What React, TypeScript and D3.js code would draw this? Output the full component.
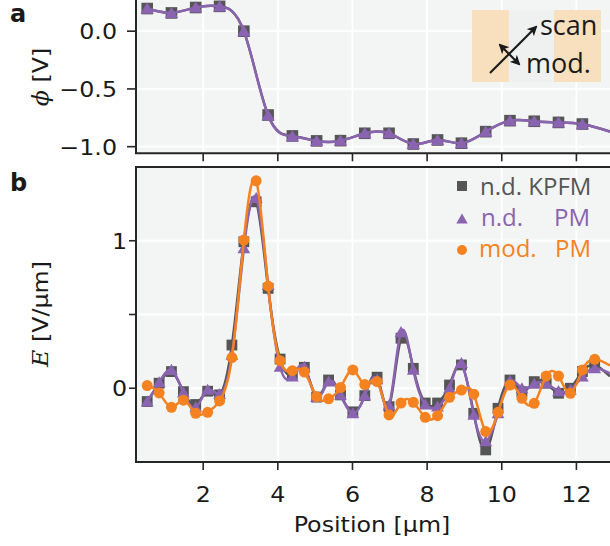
import React from "react";
import * as d3 from "d3";

// Sampling positions along the scan (µm)
const phiPositions = [
  0.5, 1.15, 1.8, 2.44, 3.09, 3.74, 4.39, 5.04, 5.68, 6.33, 6.98, 7.63, 8.28,
  8.92, 9.57, 10.22, 10.87, 11.52, 12.16,
];
// Potential profile (V)
const phiKpfm = [
  0.196, 0.158, 0.205, 0.215, 0.0, -0.726, -0.907, -0.95, -0.948, -0.884,
  -0.884, -0.977, -0.942, -0.97, -0.87, -0.775, -0.78, -0.79, -0.804,
];
const phiNd = [
  0.196, 0.158, 0.205, 0.215, 0.0, -0.73, -0.91, -0.95, -0.948, -0.884,
  -0.884, -0.977, -0.942, -0.97, -0.87, -0.775, -0.78, -0.79, -0.804,
];
// Trace value where the curve leaves the plotted window
const phiEdgeX = 12.9;
const phiEdgeValue = -0.87;

const ePositions = [
  0.5, 0.82, 1.15, 1.47, 1.8, 2.12, 2.44, 2.77, 3.09, 3.42, 3.74, 4.06, 4.39,
  4.71, 5.04, 5.36, 5.68, 6.01, 6.33, 6.66, 6.98, 7.3, 7.63, 7.95, 8.28, 8.6,
  8.92, 9.25, 9.57, 9.9, 10.22, 10.54, 10.87, 11.19, 11.52, 11.84, 12.16, 12.49,
];
// Electric field (V/µm)
const eKpfm = [
  -0.09, 0.034, 0.113, -0.023, -0.11, -0.02, -0.045, 0.293, 0.993, 1.264,
  0.677, 0.198, 0.095, 0.142, -0.06, 0.056, -0.045, -0.16, -0.05, 0.075,
  -0.125, 0.339, 0.135, -0.1, -0.1, 0.022, 0.158, -0.17, -0.418, -0.136,
  0.056, -0.023, 0.045, 0.034, -0.034, 0.0, 0.113, 0.158,
];
const eNd = [
  -0.09, 0.04, 0.124, -0.03, -0.13, -0.01, -0.04, 0.226, 0.948, 1.29, 0.7,
  0.146, 0.079, 0.146, -0.06, 0.045, -0.045, -0.17, -0.05, 0.06, -0.115, 0.38,
  0.125, -0.11, -0.124, 0.0, 0.17, -0.18, -0.36, -0.17, 0.05, 0.0, 0.03,
  0.034, -0.02, -0.01, 0.079, 0.135,
];
const eMod = [
  0.018, -0.032, -0.129, -0.081, -0.17, -0.163, -0.086, 0.208, 1.005, 1.406,
  0.693, 0.187, 0.119, 0.11, -0.057, -0.072, 0.005, 0.124, 0.025, 0.045,
  -0.181, -0.1, -0.095, -0.197, -0.186, -0.061, -0.012, -0.04, -0.294, -0.163,
  0.022, -0.068, -0.102, 0.083, 0.083, -0.034, 0.124, 0.196,
];
const eEdgeX = 12.9;
const eEdgeKpfm = 0.08;
const eEdgeNd = 0.1;
const eEdgeMod = 0.155;

const xTicks = [2, 4, 6, 8, 10, 12];
const phiTicks = [0, -0.5, -1.0];
const phiTickLabels = ["0.0", "\u22120.5", "\u22121.0"];
const eTicks = [0, 0.5, 1];
const eTickLabels = ["0", "", "1"];

const legendLabels = ["n.d. KPFM", "n.d.", "mod."];

const GRAY = "#555555";
const PURPLE = "#8a63b1";
const ORANGE = "#f58220";
const PANEL_BG = "#f3f5f5";
const SPINE = "#262626";
const INK = "#1a1a1a";
const TICK_FONT = "'DejaVu Sans', sans-serif";
const LABEL_FONT = "'Open Sans', 'Noto Sans', sans-serif";
const TICK_SIZE = 22;
const STRETCH = 1.08;

const left = 136;
const right = 610;
const bottomA = 153.3;
const topB = 167;
const bottomB = 462;

type Pt = [number, number];

function Square({ x, y, s, fill }: { x: number; y: number; s: number; fill: string }) {
  return <rect x={x - s} y={y - s} width={2 * s} height={2 * s} fill={fill} />;
}
function Tri({ x, y, r, fill }: { x: number; y: number; r: number; fill: string }) {
  return (
    <path
      d={`M${x},${y - r * 1.05} L${x + r * 1.1},${y + r * 0.85} L${x - r * 1.1},${y + r * 0.85} Z`}
      fill={fill}
    />
  );
}

// Axis text in the sans face, slightly widened
function AxisText({
  x,
  y,
  anchor = "middle",
  rotate = 0,
  children,
}: {
  x: number;
  y: number;
  anchor?: string;
  rotate?: number;
  children: React.ReactNode;
}) {
  return (
    <text
      transform={`translate(${x},${y}) rotate(${rotate}) scale(${STRETCH},1)`}
      textAnchor={anchor}
      fontFamily={TICK_FONT}
      fontSize={TICK_SIZE}
      fill={INK}
    >
      {children}
    </text>
  );
}

export default function App() {
  const x = d3.scaleLinear().domain([0.2, 12.9]).range([left, right]);
  const yA = d3.scaleLinear().domain([-1.06, 0.27]).range([bottomA + 0.3, 0]);
  const yB = d3.scaleLinear().domain([-0.5, 1.5]).range([bottomB, topB]);

  const lineA = d3
    .line<Pt>()
    .x((d) => x(d[0]))
    .y((d) => yA(d[1]))
    .curve(d3.curveNatural);
  const lineB = d3
    .line<Pt>()
    .x((d) => x(d[0]))
    .y((d) => yB(d[1]))
    .curve(d3.curveNatural);

  const withEdgeA = (vals: number[]): Pt[] => [
    ...phiPositions.map((p, i) => [p, vals[i]] as Pt),
    [phiEdgeX, phiEdgeValue],
  ];
  const withEdgeB = (vals: number[], edge: number): Pt[] => [
    ...ePositions.map((p, i) => [p, vals[i]] as Pt),
    [eEdgeX, edge],
  ];

  return (
    <div style={{ position: "fixed", left: 0, top: 0 }}>
      <svg width={610} height={546} viewBox="0 0 610 546" style={{ display: "block", background: "#ffffff" }}>
        <defs>
          <clipPath id="clipA">
            <rect x={left} y={-10} width={right - left} height={bottomA + 10} />
          </clipPath>
          <clipPath id="clipB">
            <rect x={left} y={topB} width={right - left} height={bottomB - topB} />
          </clipPath>
          <marker id="arrowHead" viewBox="0 0 10 10" refX="8" refY="5" markerWidth="5" markerHeight="5" orient="auto-start-reverse">
            <path d="M0,0 L10,5 L0,10 L2.5,5 Z" fill={INK} />
          </marker>
        </defs>

        {/* panel a */}
        <rect x={left} y={0} width={right - left} height={bottomA} fill={PANEL_BG} />
        <g stroke="#ffffff" strokeWidth={1.8}>
          {xTicks.map((t) => (
            <line key={"gx" + t} x1={x(t)} x2={x(t)} y1={0} y2={bottomA} />
          ))}
          {phiTicks.map((t) => (
            <line key={"gy" + t} x1={left} x2={right} y1={yA(t)} y2={yA(t)} />
          ))}
        </g>
        <g clipPath="url(#clipA)">
          <path d={lineA(withEdgeA(phiKpfm)) ?? ""} fill="none" stroke={GRAY} strokeWidth={2.5} />
          {phiPositions.map((p, i) => (
            <Square key={"ak" + i} x={x(p)} y={yA(phiKpfm[i])} s={5.8} fill={GRAY} />
          ))}
          <path d={lineA(withEdgeA(phiNd)) ?? ""} fill="none" stroke={PURPLE} strokeWidth={2.5} />
          {phiPositions.map((p, i) => (
            <Tri key={"an" + i} x={x(p)} y={yA(phiNd[i])} r={6} fill={PURPLE} />
          ))}
        </g>

        {/* inset: scan / modulation directions */}
        <rect x={472} y={10} width={37} height={72} fill="#f8dfbe" />
        <rect x={509} y={10} width={45} height={72} fill="#eff0f0" />
        <rect x={554} y={10} width={47} height={72} fill="#f8dfbe" />
        <line x1={490} y1={73} x2={536} y2={27} stroke={INK} strokeWidth={2} markerEnd="url(#arrowHead)" />
        <line x1={500} y1={45} x2={519} y2={64} stroke={INK} strokeWidth={2} markerStart="url(#arrowHead)" markerEnd="url(#arrowHead)" />
        <text x={540} y={35} fontFamily={LABEL_FONT} fontSize={27} fill={INK}>scan</text>
        <text x={526} y={73} fontFamily={LABEL_FONT} fontSize={27} fill={INK}>mod.</text>

        {/* axes a */}
        <line x1={left} x2={left} y1={0} y2={bottomA} stroke={SPINE} strokeWidth={2} />
        <line x1={left - 1} x2={right} y1={bottomA} y2={bottomA} stroke={SPINE} strokeWidth={2} />
        {xTicks.map((t) => (
          <line key={"at" + t} x1={x(t)} x2={x(t)} y1={bottomA} y2={bottomA + 8} stroke={SPINE} strokeWidth={1.6} />
        ))}
        {phiTicks.map((t, i) => (
          <g key={"ay" + t}>
            <line x1={left - 9} x2={left} y1={yA(t)} y2={yA(t)} stroke={SPINE} strokeWidth={1.6} />
            <AxisText x={117} y={yA(t) + 8} anchor="end">
              {phiTickLabels[i]}
            </AxisText>
          </g>
        ))}
        <AxisText x={48} y={77} rotate={-90}>
          <tspan fontFamily="'DejaVu Serif', serif" fontStyle="italic">ϕ</tspan> [V]
        </AxisText>
        <text x={10} y={22} fontFamily={TICK_FONT} fontWeight="bold" fontSize={24} fill={INK}>a</text>

        {/* panel b */}
        <rect x={left} y={topB} width={right - left} height={bottomB - topB} fill={PANEL_BG} />
        <g stroke="#ffffff" strokeWidth={1.8}>
          {xTicks.map((t) => (
            <line key={"gx" + t} x1={x(t)} x2={x(t)} y1={topB} y2={bottomB} />
          ))}
          {eTicks.map((t) => (
            <line key={"gy" + t} x1={left} x2={right} y1={yB(t)} y2={yB(t)} />
          ))}
        </g>
        <g clipPath="url(#clipB)">
          <path d={lineB(withEdgeB(eKpfm, eEdgeKpfm)) ?? ""} fill="none" stroke={GRAY} strokeWidth={2.5} />
          {ePositions.map((p, i) => (
            <Square key={"bk" + i} x={x(p)} y={yB(eKpfm[i])} s={5.4} fill={GRAY} />
          ))}
          <path d={lineB(withEdgeB(eNd, eEdgeNd)) ?? ""} fill="none" stroke={PURPLE} strokeWidth={2.5} />
          {ePositions.map((p, i) => (
            <Tri key={"bn" + i} x={x(p)} y={yB(eNd[i])} r={5.8} fill={PURPLE} />
          ))}
          <path d={lineB(withEdgeB(eMod, eEdgeMod)) ?? ""} fill="none" stroke={ORANGE} strokeWidth={2.5} />
          {ePositions.map((p, i) => (
            <circle key={"bm" + i} cx={x(p)} cy={yB(eMod[i])} r={5.5} fill={ORANGE} />
          ))}
        </g>

        {/* legend */}
        <Square x={462} y={186} s={5} fill={GRAY} />
        <text x={480} y={195} fontFamily={LABEL_FONT} fontSize={24} fill={GRAY}>{legendLabels[0]}</text>
        <Tri x={462} y={219} r={5.2} fill={PURPLE} />
        <text x={481} y={226} fontFamily={LABEL_FONT} fontSize={24} fill={PURPLE}>{legendLabels[1]}</text>
        <text x={554} y={226} fontFamily={LABEL_FONT} fontSize={24} fill={PURPLE}>PM</text>
        <circle cx={462} cy={250} r={5} fill={ORANGE} />
        <text x={479} y={257} fontFamily={LABEL_FONT} fontSize={24} fill={ORANGE}>{legendLabels[2]}</text>
        <text x={555} y={257} fontFamily={LABEL_FONT} fontSize={24} fill={ORANGE}>PM</text>

        {/* axes b */}
        <line x1={left} x2={right} y1={topB} y2={topB} stroke={SPINE} strokeWidth={2} />
        <line x1={left} x2={left} y1={topB - 1} y2={bottomB + 1} stroke={SPINE} strokeWidth={2} />
        <line x1={left - 1} x2={right} y1={bottomB} y2={bottomB} stroke={SPINE} strokeWidth={2} />
        {xTicks.map((t) => (
          <g key={"bt" + t}>
            <line x1={x(t)} x2={x(t)} y1={bottomB} y2={bottomB + 8} stroke={SPINE} strokeWidth={1.6} />
            <AxisText x={x(t)} y={502}>
              {t}
            </AxisText>
          </g>
        ))}
        {eTicks.map((t, i) => (
          <g key={"by" + t}>
            <line x1={left - 7} x2={left} y1={yB(t)} y2={yB(t)} stroke={SPINE} strokeWidth={1.6} />
            <AxisText x={127} y={yB(t) + 8} anchor="end">
              {eTickLabels[i]}
            </AxisText>
          </g>
        ))}
        <AxisText x={372} y={532}>
          Position [µm]
        </AxisText>
        <AxisText x={48} y={314} rotate={-90}>
          <tspan fontFamily="'DejaVu Serif', serif" fontStyle="italic">E</tspan> [V/µm]
        </AxisText>
        <text x={10} y={191} fontFamily={TICK_FONT} fontWeight="bold" fontSize={24} fill={INK}>b</text>
      </svg>
    </div>
  );
}
